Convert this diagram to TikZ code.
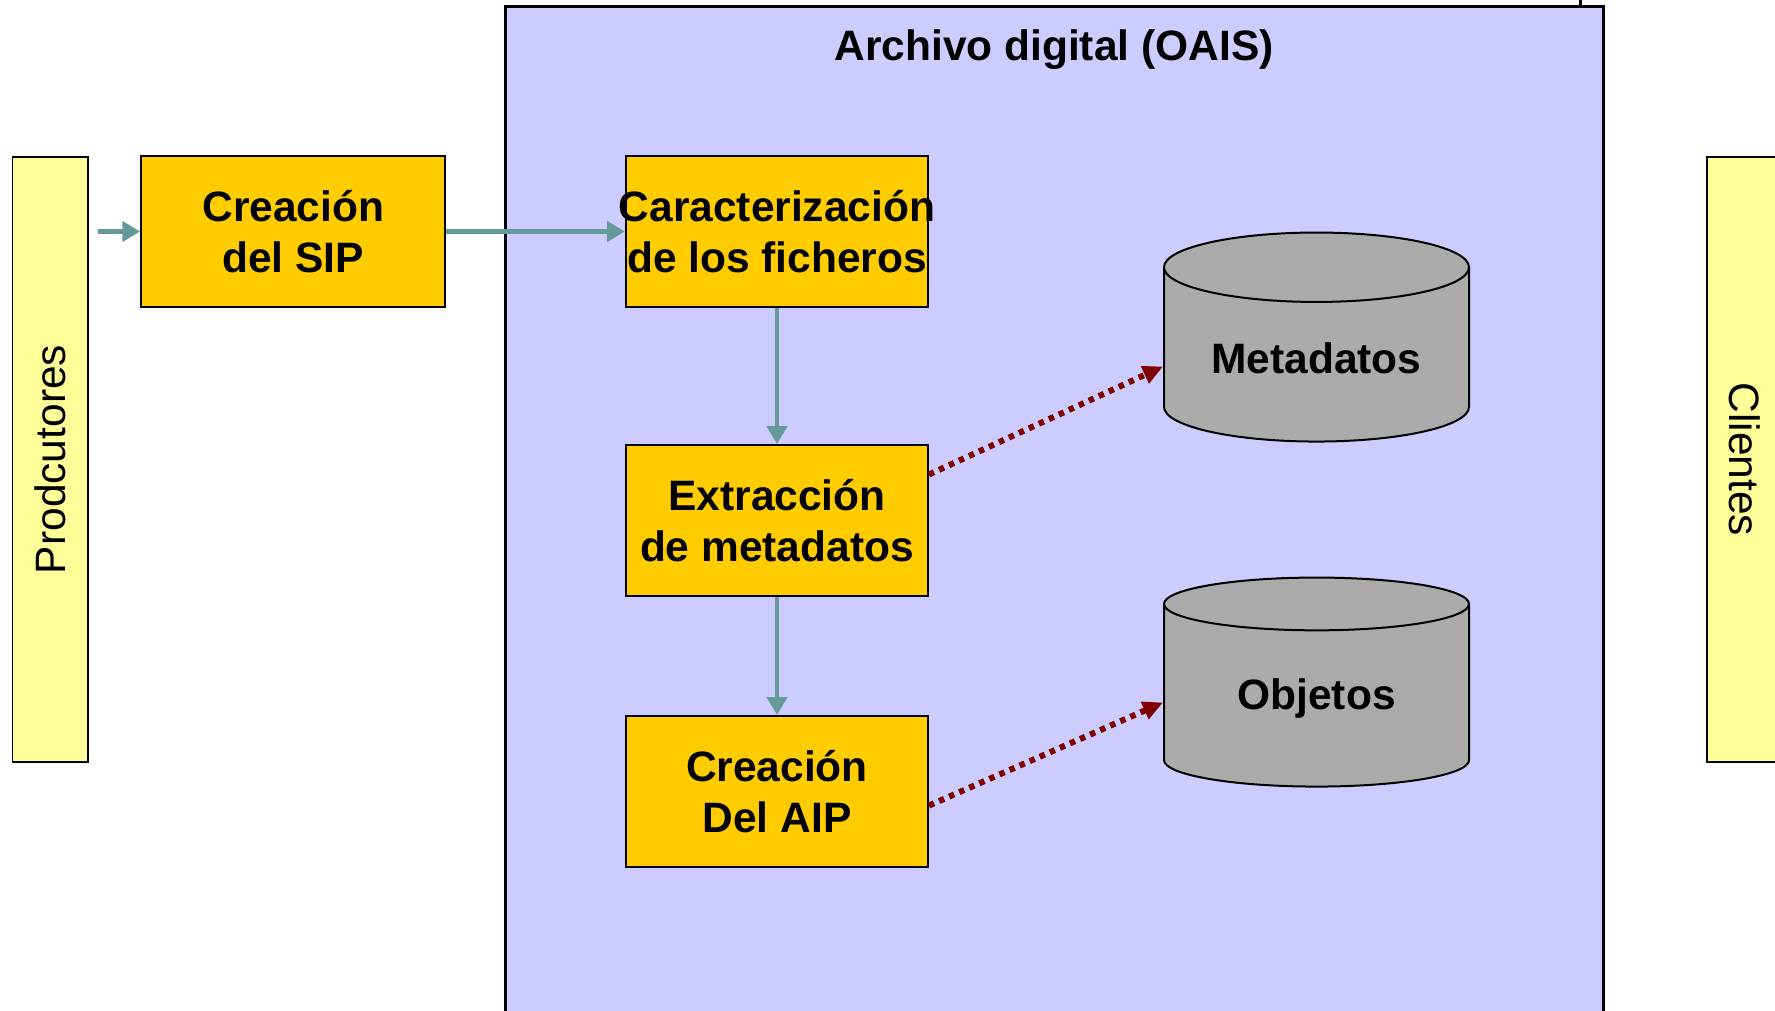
\documentclass[tikz,border=0pt]{standalone}
\usepackage{fontspec}
\setmainfont{Liberation Sans}
\usetikzlibrary{positioning,shapes.geometric,arrows.meta}
\definecolor{gold}{HTML}{FFCC00}
\definecolor{paleyel}{HTML}{FFFF99}
\definecolor{lavender}{HTML}{CCCCFF}
\definecolor{dbgrey}{HTML}{ABABAB}
\definecolor{flowteal}{HTML}{669999}
\definecolor{linkred}{HTML}{800000}
\begin{document}
\begin{tikzpicture}[x=1pt,y=-1pt,
    box/.style={draw, line width=2pt, fill=gold, minimum width=302pt, minimum height=151pt,
        inner sep=0pt, align=center, font=\bfseries\fontsize{42.5}{51}\selectfont},
    side/.style={draw, line width=1.5pt, fill=paleyel, minimum width=605pt, minimum height=75.5pt,
        font=\fontsize{42.5}{51}\selectfont},
    db/.style={cylinder, shape border rotate=90, aspect=0.32, draw, line width=2pt, fill=dbgrey,
        minimum width=305pt, minimum height=209pt, font=\bfseries\fontsize{42.5}{51}\selectfont},
    flow/.style={draw=flowteal, line width=4.5pt, -{Triangle[length=18pt,width=20pt]}},
    link/.style={draw=linkred, line width=6pt, dash pattern=on 5.5pt off 5.5pt,
        -{Triangle[length=20pt,width=18pt]}}]
    \useasboundingbox (0,0) rectangle (1775,1011);
    \clip (0,0) rectangle (1775,1011);
    % archive frame
    \draw[line width=3pt, fill=lavender] (505,7) rectangle (1603,1040);
    \draw[line width=3pt] (1580,0) -- (1580,7);
    \node[font=\bfseries\fontsize{42.5}{51}\selectfont] (title) at (1054,50) {Archivo digital (OAIS)};
    % side bars
    \node[side, rotate=90] (prod) at (50.25,459.5) {Prodcutores};
    \node[side, rotate=-90] (cli) at (1744.75,459.5) {Clientes};
    % steps
    \node[box, minimum width=304pt] (sip) at (293.25,231.5) {Creación\\del SIP};
    \node[box, inner xsep=-10pt] (car) at (777,231.5) {Caracterización\\de los ficheros};
    \node[box, below=136pt of car] (ext) {Extracción\\de metadatos};
    \node[box, below=118pt of ext] (aip) {Creación\\Del AIP};
    % stores
    \node[db] (meta) at (1316.5,358.5) {Metadatos};
    \node[db] (obj) at (1316.5,698.5) {Objetos};
    \draw[flow] (prod.south |- sip.west) ++(9,0) -- (sip.west);
    \draw[flow] (sip.east) -- (car.west);
    \draw[flow] (car.south) -- (ext.north);
    \draw[flow] (ext.south) -- (aip.north);
    \draw[link] ([yshift=46pt]ext.east) -- ([yshift=-8pt]meta.west);
    \draw[link] ([yshift=-14pt]aip.east) -- ([yshift=-4pt]obj.west);
\end{tikzpicture}
\end{document}
